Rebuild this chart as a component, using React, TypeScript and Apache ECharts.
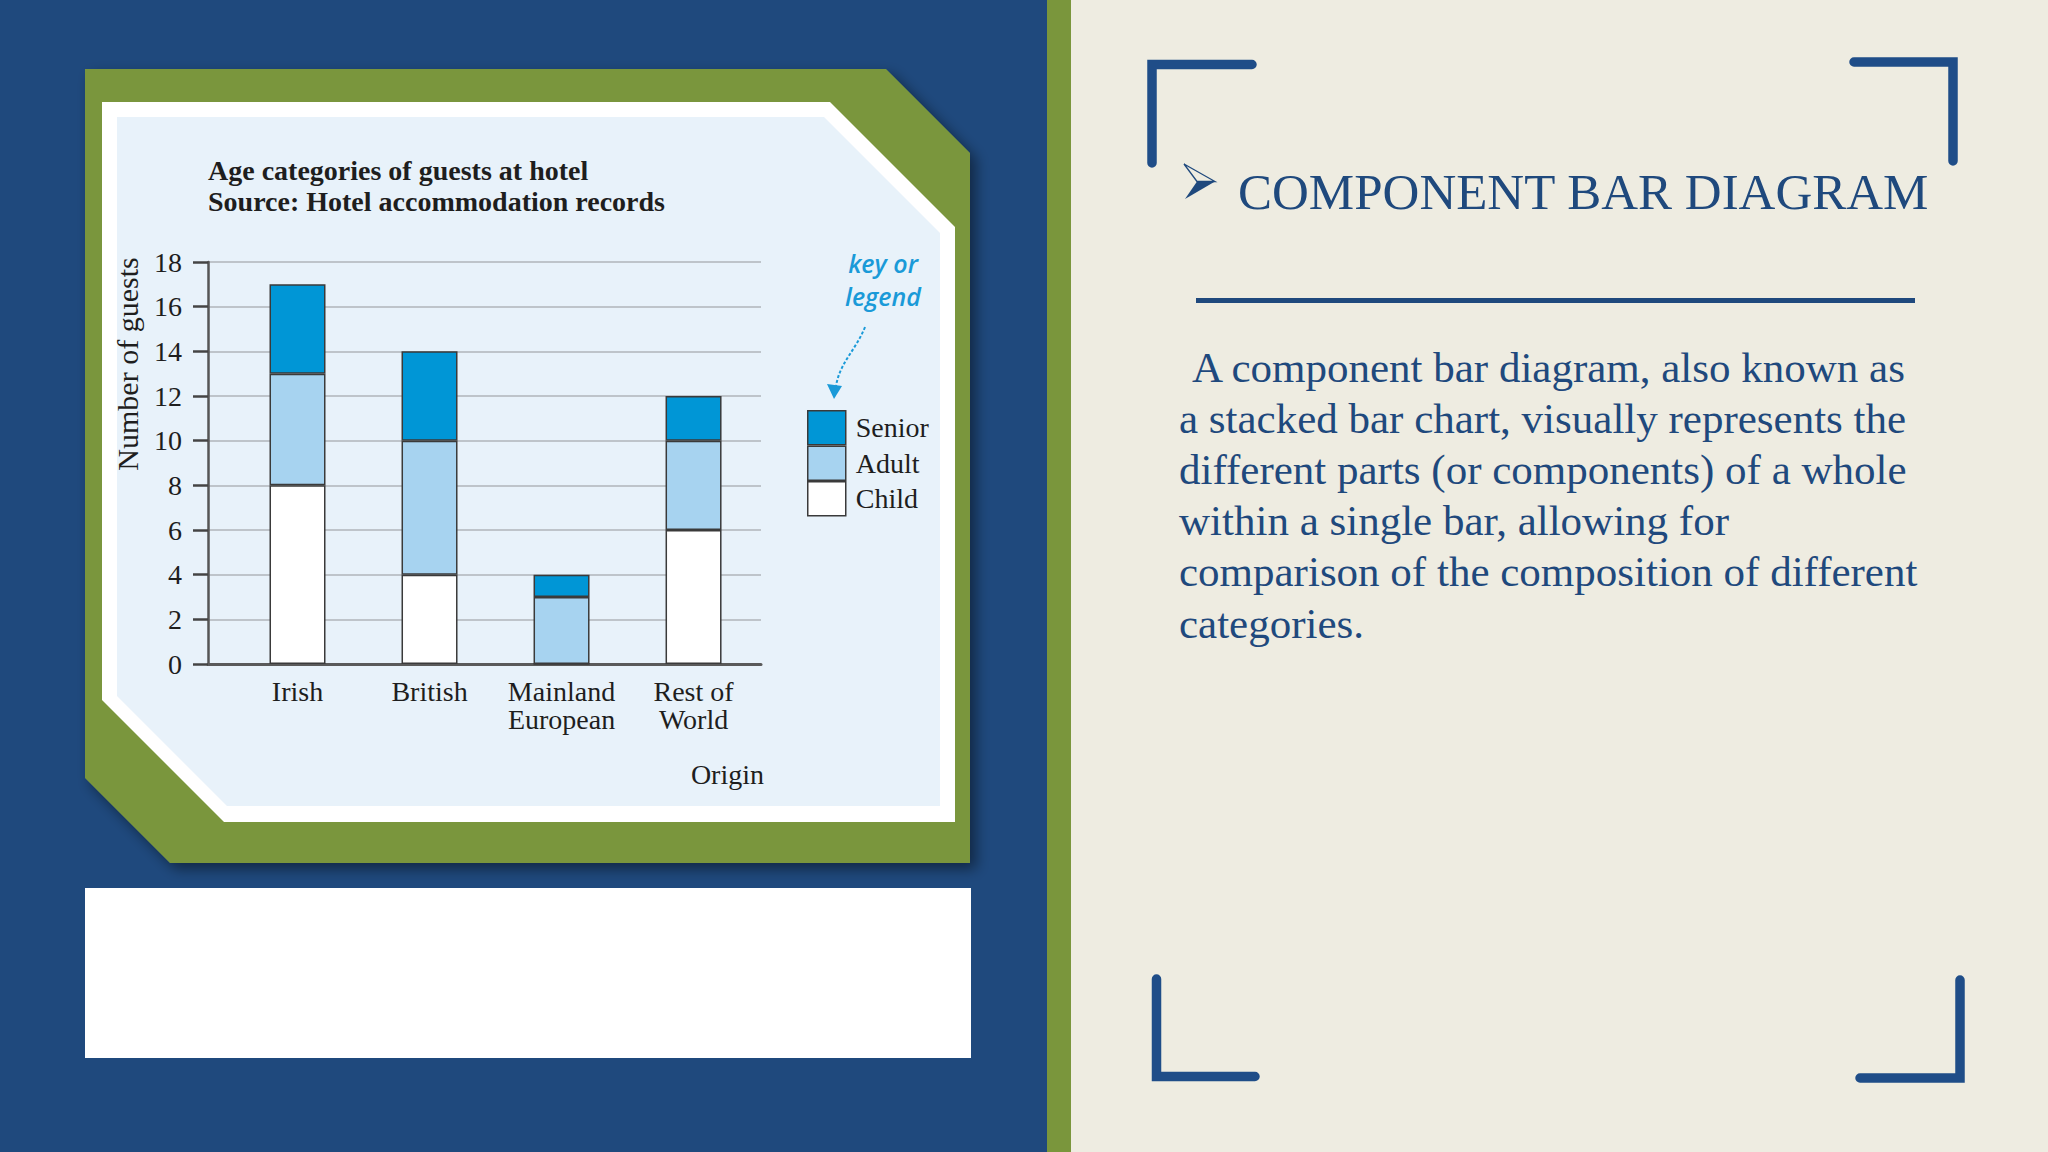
import React, { useEffect, useRef } from "react";
import * as echarts from "echarts";

// ---- data ----
const categories = ["Irish", "British", "Mainland European", "Rest of World"];
const categoryTickLabels = ["Irish", "British", "Mainland\nEuropean", "Rest of\nWorld"];
const childValues = [8, 4, 0, 6];
const adultValues = [5, 6, 3, 4];
const seniorValues = [4, 4, 1, 2];
const legendOrder = ["Senior", "Adult", "Child"];
const yMin = 0;
const yMax = 18;
const yStep = 2;

const chartTitle = "Age categories of guests at hotel\nSource: Hotel accommodation records";
const yAxisName = "Number of guests";
const xAxisName = "Origin";
const heading = "COMPONENT BAR DIAGRAM";
const paragraphLines = [
  "A component bar diagram, also known as",
  "a stacked bar chart, visually represents the",
  "different parts (or components) of a whole",
  "within a single bar, allowing for",
  "comparison of the composition of different",
  "categories.",
];

// ---- style ----
const W = 2048;
const H = 1152;
const SERIF = "'Liberation Serif', 'Times New Roman', serif";
const NAVY = "#1F497D";
const BRACKET = "#1F4D88";
const GREEN = "#7A963C";
const BEIGE = "#EEECE1";
const LIGHT = "#E8F2FA";
const SENIOR = "#0096D6";
const ADULT = "#A7D3F0";
const CHILD = "#FFFFFF";
const INK = "#1E1E1E";
const KEY = "#1A9AD8";

function barSeries(name: string, values: number[], color: string) {
  return {
    name,
    type: "bar",
    stack: "guests",
    barWidth: 56,
    // value first so that the stack is built on the vertical (value) dimension
    dimensions: ["guests", "origin"],
    encode: { x: "origin", y: "guests" },
    data: values.map((v, i) => [v, i + 1]),
    itemStyle: { color, borderColor: "#3a3a3a", borderWidth: 1.5 },
    emphasis: { disabled: true },
  };
}

function bracket(points: number[][]) {
  return {
    type: "polyline",
    shape: { points },
    style: { stroke: BRACKET, lineWidth: 9.5, fill: null, lineCap: "round", lineJoin: "miter" },
  };
}

export default function App() {
  const ref = useRef<HTMLDivElement>(null);
  useEffect(() => {
    document.body.style.margin = "0";
    const chart = echarts.init(ref.current!, undefined, { renderer: "svg", width: W, height: H });

    const graphics: any[] = [
      { type: "rect", z: -10, shape: { x: 0, y: 0, width: 1047, height: H }, style: { fill: NAVY } },
      { type: "rect", z: -10, shape: { x: 1047, y: 0, width: 24, height: H }, style: { fill: GREEN } },
      { type: "rect", z: -10, shape: { x: 1071, y: 0, width: W - 1071, height: H }, style: { fill: BEIGE } },
      {
        type: "polygon",
        z: -9,
        shape: { points: [[85, 69], [886, 69], [970, 153], [970, 863], [170, 863], [85, 778]] },
        style: { fill: GREEN, shadowBlur: 14, shadowOffsetX: 6, shadowOffsetY: 6, shadowColor: "rgba(0,0,0,0.45)" },
      },
      {
        type: "polygon",
        z: -8,
        shape: { points: [[102, 102], [830, 102], [955, 227], [955, 822], [224, 822], [102, 700]] },
        style: { fill: "#FFFFFF" },
      },
      {
        type: "polygon",
        z: -7,
        shape: { points: [[117, 117], [824, 117], [940, 233], [940, 806], [227, 806], [117, 696]] },
        style: { fill: LIGHT },
      },
      { type: "rect", z: -9, shape: { x: 85, y: 888, width: 886, height: 170 }, style: { fill: "#FFFFFF" } },
      // key annotation
      {
        type: "text",
        style: { x: 883, y: 263, text: "key or", fill: KEY, font: "italic 600 25px 'Open Sans', sans-serif", align: "center", verticalAlign: "middle" },
      },
      {
        type: "text",
        style: { x: 883, y: 296, text: "legend", fill: KEY, font: "italic 600 25px 'Open Sans', sans-serif", align: "center", verticalAlign: "middle" },
      },
      {
        type: "bezierCurve",
        shape: { x1: 865, y1: 327, cpx1: 856, cpy1: 350, cpx2: 840, cpy2: 362, x2: 836, y2: 386 },
        style: { stroke: KEY, lineWidth: 2, lineDash: [3, 2], fill: null },
      },
      {
        type: "polygon",
        shape: { points: [[827, 384], [842, 386], [834, 399]] },
        style: { fill: KEY },
      },
      // right panel
      bracket([[1252, 64.5], [1152, 64.5], [1152, 163]]),
      bracket([[1854, 62], [1953, 62], [1953, 161]]),
      bracket([[1156.5, 979], [1156.5, 1076.5], [1255, 1076.5]]),
      bracket([[1960, 980], [1960, 1078], [1860, 1078]]),
      {
        type: "polygon",
        shape: { points: [[1184, 164], [1215, 181.5], [1197, 181.5]] },
        style: { fill: BEIGE, stroke: NAVY, lineWidth: 1.3 },
      },
      {
        type: "polygon",
        shape: { points: [[1197, 181.5], [1215, 181.5], [1185, 199]] },
        style: { fill: NAVY },
      },
      {
        type: "text",
        style: { x: 1238, y: 192, text: heading, fill: NAVY, font: `51px ${SERIF}`, verticalAlign: "middle" },
      },
      { type: "rect", shape: { x: 1196, y: 298, width: 719, height: 5 }, style: { fill: NAVY } },
      ...paragraphLines.map((t, i) => ({
        type: "text",
        style: {
          x: i === 0 ? 1192 : 1179,
          y: 367 + i * 51.2,
          text: t,
          fill: NAVY,
          font: `43px ${SERIF}`,
          verticalAlign: "middle",
        },
      })),
    ];

    const option: any = {
      animation: false,
      title: {
        text: chartTitle,
        left: 208,
        top: 155,
        padding: 0,
        textStyle: { fontFamily: SERIF, fontSize: 28, fontWeight: "bold", color: INK, lineHeight: 31 },
      },
      legend: {
        data: legendOrder,
        orient: "vertical",
        left: 807,
        top: 410,
        padding: 0,
        itemWidth: 38,
        itemHeight: 34,
        itemGap: 0,
        icon: "rect",
        selectedMode: false,
        itemStyle: { borderColor: "#3a3a3a", borderWidth: 1.5 },
        textStyle: { fontFamily: SERIF, fontSize: 28, color: INK, padding: [0, 0, 0, 5] },
      },
      grid: { left: 208, right: W - 761, top: 262, bottom: H - 664, containLabel: false },
      xAxis: {
        type: "value",
        min: 0.322,
        max: 4.511,
        name: xAxisName,
        nameLocation: "end",
        nameGap: 3,
        nameTextStyle: { fontFamily: SERIF, fontSize: 28, color: INK, align: "right", verticalAlign: "top", padding: [96, 0, 0, 0] },
        axisLine: { show: true, lineStyle: { color: "#5a5a5a", width: 3 } },
        axisTick: { show: false },
        splitLine: { show: false },
        axisLabel: {
          customValues: categories.map((_, i) => i + 1),
          formatter: (v: number) => categoryTickLabels[Math.round(v) - 1] ?? "",
          fontFamily: SERIF,
          fontSize: 28,
          lineHeight: 28,
          color: INK,
          margin: 13,
        },
      },
      yAxis: {
        type: "value",
        min: yMin,
        max: yMax,
        interval: yStep,
        name: yAxisName,
        nameLocation: "middle",
        nameRotate: 90,
        nameGap: 66,
        nameTextStyle: { fontFamily: SERIF, fontSize: 30, color: INK, padding: [0, 0, 0, 198] },
        axisLine: { show: true, lineStyle: { color: "#555555", width: 2.5 } },
        axisTick: { show: true, length: 15, lineStyle: { color: "#444444", width: 2.5 } },
        splitLine: { show: true, lineStyle: { color: "#BEC4CA", width: 2 } },
        axisLabel: { fontFamily: SERIF, fontSize: 28, color: INK, margin: 26 },
      },
      series: [
        barSeries("Child", childValues, CHILD),
        barSeries("Adult", adultValues, ADULT),
        barSeries("Senior", seniorValues, SENIOR),
      ],
      graphic: { elements: graphics },
    };

    chart.setOption(option);
    return () => chart.dispose();
  }, []);

  return <div ref={ref} style={{ position: "absolute", left: 0, top: 0, width: W, height: H }} />;
}
